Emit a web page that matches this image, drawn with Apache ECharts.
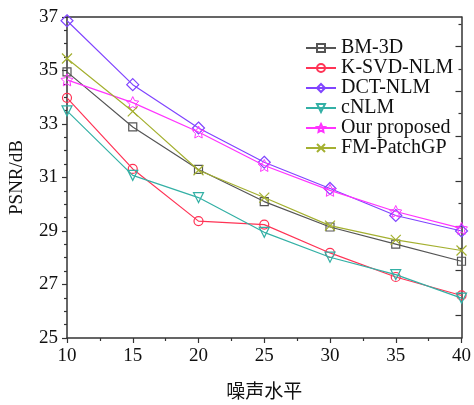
<!DOCTYPE html>
<html><head><meta charset="utf-8">
<script src="https://cdn.jsdelivr.net/npm/echarts@6/dist/echarts.min.js"></script>
<style>html,body{margin:0;padding:0;background:#fff}#c{width:474px;height:405px}</style>
</head><body><div id="c"></div>
<script>
const noiseLevels = [10, 15, 20, 25, 30, 35, 40];
const seriesNames = ['BM-3D', 'K-SVD-NLM', 'DCT-NLM', 'cNLM', 'Our proposed', 'FM-PatchGP'];
const bm3d      = [34.95, 32.89, 31.30, 30.10, 29.15, 28.51, 27.87];
const ksvdNlm   = [33.98, 31.32, 29.37, 29.24, 28.18, 27.28, 26.59];
const dctNlm    = [36.86, 34.47, 32.85, 31.57, 30.59, 29.58, 29.00];
const cNlm      = [33.49, 31.08, 30.25, 28.95, 28.02, 27.37, 26.49];
const proposed  = [34.65, 33.80, 32.70, 31.45, 30.52, 29.73, 29.10];
const fmPatchGP = [35.45, 33.47, 31.27, 30.25, 29.20, 28.67, 28.27];
const rightMajorTicks = [25.84, 27.52, 29.19, 30.87, 32.55, 34.22, 35.90];
const rightMinorTicks = [26.68, 28.35, 30.03, 31.71, 33.39, 35.06, 36.74];

const colors = ['#555555', '#ff3355', '#8044ff', '#33b0a5', '#ff33ff', '#a4b030'];
const STAR = 'path://M50,0L64.69,29.77L97.55,34.55L73.78,57.73L79.39,90.45L50,75L20.61,90.45L26.22,57.73L2.45,34.55L35.31,29.77Z';
const CROSS = 'path://M0,0L100,100M100,0L0,100';
const symbols = ['rect', 'circle', 'diamond', 'triangle', STAR, CROSS];
const sizes = [8, 9, 12, 10, 12, 10];
const borderWidths = [1.2, 1.2, 1.2, 1.2, 1.0, 1.2];
const rotates = [0, 0, 0, 180, 0, 0];
const datasets = [bm3d, ksvdNlm, dctNlm, cNlm, proposed, fmPatchGP];

const serif = '"Liberation Serif", "Times New Roman", serif';
const axisCol = '#333';

const chart = echarts.init(document.getElementById('c'), null, {renderer: 'canvas'});
chart.setOption({
  animation: false,
  grid: {left: 67, right: 8, top: 17, bottom: 61, containLabel: false},
  legend: {
    orient: 'vertical', left: 305, top: 38, padding: 0,
    itemWidth: 30, itemHeight: 10, itemGap: 0,
    textStyle: {fontFamily: serif, fontSize: 20, color: '#111', lineHeight: 19.5},
    data: seriesNames
  },
  xAxis: [{
    type: 'value', min: 10, max: 40, interval: 5,
    name: '噪声水平', nameLocation: 'middle', nameGap: 43,
    nameTextStyle: {fontFamily: '"Noto Sans CJK SC", sans-serif', fontSize: 19, color: '#111'},
    axisLine: {lineStyle: {color: axisCol, width: 1.5}},
    axisTick: {show: true, length: 5, lineStyle: {color: axisCol, width: 1.2}},
    minorTick: {show: true, splitNumber: 2, length: 3, lineStyle: {color: axisCol, width: 1.2}},
    axisLabel: {fontFamily: serif, fontSize: 19, color: '#111', margin: 9},
    splitLine: {show: false}
  }, {
    type: 'value', position: 'top', min: 10, max: 40,
    axisLine: {show: true, onZero: false, lineStyle: {color: axisCol, width: 1.5}},
    axisTick: {show: false}, axisLabel: {show: false}, splitLine: {show: false}
  }],
  yAxis: [{
    type: 'value', min: 25, max: 37, interval: 2,
    name: 'PSNR/dB', nameLocation: 'middle', nameGap: 40,
    nameTextStyle: {fontFamily: serif, fontSize: 19, color: '#111'},
    axisLine: {show: true, lineStyle: {color: axisCol, width: 1.5}},
    axisTick: {show: true, length: 5, lineStyle: {color: axisCol, width: 1.2}},
    minorTick: {show: true, splitNumber: 4, length: 3, lineStyle: {color: axisCol, width: 1.2}},
    axisLabel: {fontFamily: serif, fontSize: 19, color: '#111', margin: 9},
    splitLine: {show: false}
  }, {
    type: 'value', position: 'right', min: 25, max: 37,
    axisLine: {show: true, onZero: false, lineStyle: {color: axisCol, width: 1.5}},
    axisTick: {show: true, inside: true, length: 6, customValues: rightMajorTicks, lineStyle: {color: axisCol, width: 1.2}},
    axisLabel: {show: false}, splitLine: {show: false}
  }, {
    type: 'value', position: 'right', min: 25, max: 37,
    axisLine: {show: false},
    axisTick: {show: true, inside: true, length: 3, customValues: rightMinorTicks, lineStyle: {color: axisCol, width: 1.2}},
    axisLabel: {show: false}, splitLine: {show: false}
  }],
  series: seriesNames.map((n, i) => ({
    name: n, type: 'line',
    data: noiseLevels.map((x, j) => [x, datasets[i][j]]),
    symbol: symbols[i], symbolSize: sizes[i], symbolRotate: rotates[i],
    showSymbol: true,
    lineStyle: {color: colors[i], width: 1.2},
    itemStyle: {color: 'rgba(255,255,255,0)', borderColor: colors[i], borderWidth: borderWidths[i]},
    z: 2 + i
  }))
});
</script></body></html>
